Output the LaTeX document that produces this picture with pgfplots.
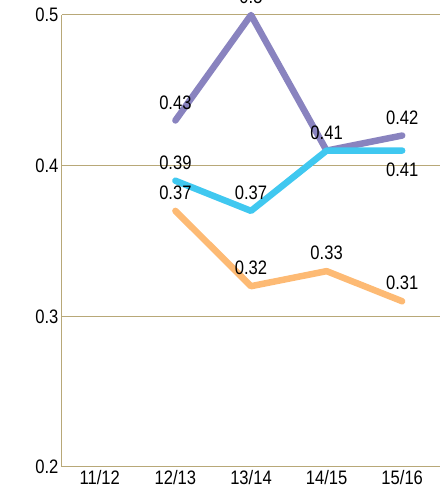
\documentclass[border=0pt]{standalone}
\usepackage{pgfplots}
\usepackage{pgfplotstable}
\pgfplotsset{compat=1.18}
\usepackage{fontspec}
\setmainfont{Liberation Sans}[FakeStretch=0.85]
\definecolor{gridc}{RGB}{184,168,120}
\definecolor{cpurple}{RGB}{137,131,191}
\definecolor{ccyan}{RGB}{64,200,240}
\definecolor{corange}{RGB}{253,186,116}

\pgfplotstableread{
x y lab dy
1 0.43 0.43 18
2 0.50 0.5 18
3 0.41 0.41 18
4 0.42 0.42 18
}\purpletab
\pgfplotstableread{
x y lab dy
1 0.39 0.39 18
2 0.37 0.37 18
3 0.41 {} 18
4 0.41 0.41 -19
}\cyantab
\pgfplotstableread{
x y lab dy
1 0.37 0.37 18
2 0.32 0.32 18
3 0.33 0.33 18
4 0.31 0.31 18
}\orangetab

\begin{document}
\begin{tikzpicture}
\begin{axis}[
  scale only axis, width=378pt, height=452pt,
  xmin=-0.5, xmax=4.5, ymin=0.2, ymax=0.5,
  xtick={0,1,2,3,4}, xticklabels={11/12,12/13,13/14,14/15,15/16},
  ytick={0.2,0.3,0.4,0.5}, yticklabels={0.2,0.3,0.4,0.5},
  axis x line*=bottom, axis y line*=left,
  axis line style={gridc, line width=1pt, -},
  ymajorgrids, grid style={gridc, line width=1pt},
  major tick length=0pt,
  tick style={draw=none},
  tick label style={font=\fontsize{19.5}{20}\selectfont},
  clip=false,
  nodes near coords,
  point meta=explicit symbolic,
  visualization depends on={\thisrow{dy} \as \dy},
  nodes near coords style={anchor=center, yshift=\dy pt, font=\fontsize{19.5}{20}\selectfont, text=black, inner sep=0pt},
]
\addplot[cpurple, line width=6.5pt, line join=round, line cap=round, mark=none] table[x=x, y=y, meta=lab] {\purpletab};
\addplot[ccyan, line width=6.5pt, line join=round, line cap=round, mark=none] table[x=x, y=y, meta=lab] {\cyantab};
\addplot[corange, line width=6.5pt, line join=round, line cap=round, mark=none] table[x=x, y=y, meta=lab] {\orangetab};
\end{axis}
\pgfresetboundingbox
\path ([xshift=-62pt,yshift=-28pt]current axis.south west) rectangle ([xshift=2pt,yshift=15pt]current axis.north east);
\end{tikzpicture}
\end{document}
